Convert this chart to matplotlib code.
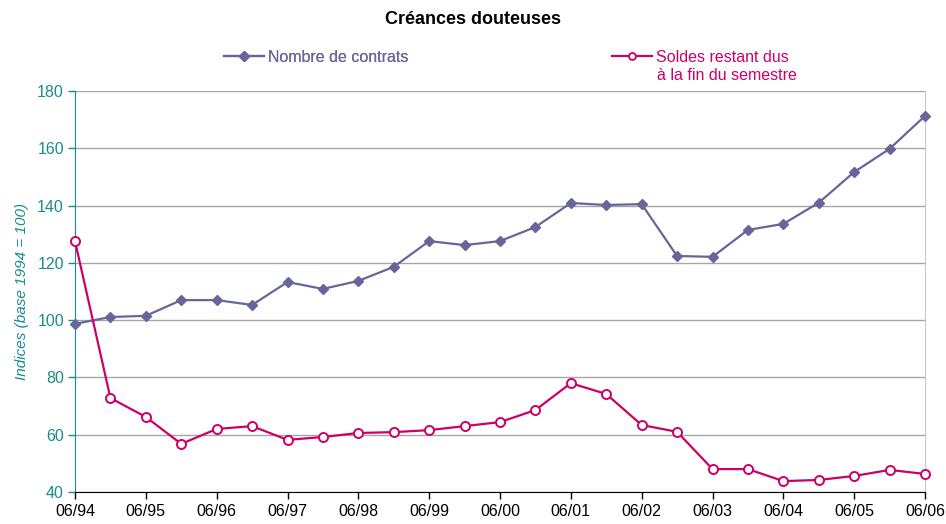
import matplotlib
matplotlib.use("Agg")
from matplotlib import pyplot as plt
from matplotlib.lines import Line2D

plt.rcParams['font.family'] = ['Liberation Sans', 'DejaVu Sans']

# semesters 06/94 .. 06/06 (index 0..24)
periods = list(range(25))
tick_labels = ["06/94", "06/95", "06/96", "06/97", "06/98", "06/99", "06/00",
               "06/01", "06/02", "06/03", "06/04", "06/05", "06/06"]

nombre_contrats = [98.7, 101.1, 101.5, 107.0, 107.0, 105.3, 113.3, 110.9, 113.7,
                   118.6, 127.6, 126.2, 127.6, 132.5, 140.9, 140.2, 140.5, 122.4,
                   122.1, 131.5, 133.6, 141.0, 151.7, 159.8, 171.3]
soldes_restant = [127.6, 72.8, 66.2, 56.8, 62.0, 63.0, 58.2, 59.2, 60.6, 60.9,
                  61.6, 63.0, 64.4, 68.6, 78.0, 74.2, 63.4, 61.0, 48.0, 48.0,
                  43.8, 44.2, 45.6, 47.7, 46.3]

blue = '#66669a'
pink = '#cc0066'
teal = '#1a8c8c'

fig = plt.figure(figsize=(9.46, 5.24), dpi=100)
ax = fig.add_axes([75 / 946, 1 - 492 / 524, 850 / 946, 401 / 524])

ax.plot(periods, nombre_contrats, color=blue, marker='D', markersize=5,
        linewidth=1.6, clip_on=False, zorder=3)
ax.plot(periods, soldes_restant, color=pink, marker='o', markersize=6.5,
        markerfacecolor='white', markeredgewidth=1.4, linewidth=1.6,
        clip_on=False, zorder=3)

ax.set_xlim(0, 24)
ax.set_ylim(40, 180)
ax.set_yticks(range(40, 181, 20))
ax.set_xticks(range(0, 25, 2))
ax.set_xticklabels(tick_labels)
ax.grid(axis='y', color='#a6a6a6', linewidth=1)
ax.set_axisbelow(True)

ax.tick_params(axis='y', colors=teal, labelsize=11.5, length=5, width=1, pad=3)
ax.tick_params(axis='x', colors='black', labelsize=11.5, length=5, width=1, pad=4)
ax.spines['left'].set_color(teal)
ax.spines['bottom'].set_color('black')
ax.spines['right'].set_color('#c8c8c8')
ax.spines['top'].set_visible(False)

ax.set_ylabel("Indices (base 1994 = 100)", color=teal, fontsize=11,
              fontstyle='italic', labelpad=6)

fig.text(0.5, 1 - 20 / 524, "Créances douteuses", ha='center', va='center',
         fontsize=13, fontweight='bold')

h1 = Line2D([], [], color=blue, marker='D', markersize=5, linewidth=1.6)
h2 = Line2D([], [], color=pink, marker='o', markersize=5, markerfacecolor='white',
            markeredgewidth=1.3, linewidth=1.6)
leg1 = fig.legend([h1], ["Nombre de contrats"], loc='center left',
                  bbox_to_anchor=(210 / 946, 1 - 57 / 524), frameon=False,
                  fontsize=11.5, handlelength=2.5, handletextpad=0.2,
                  labelcolor=blue)
leg2 = fig.legend([h2], ["Soldes restant dus"], loc='center left',
                  bbox_to_anchor=(598 / 946, 1 - 57 / 524), frameon=False,
                  fontsize=11.5, handlelength=2.5, handletextpad=0.2,
                  labelcolor=pink)
fig.add_artist(leg1)
fig.text(657 / 946, 1 - 75 / 524, "à la fin du semestre", ha='left', va='center',
         fontsize=11.5, color=pink)

fig.savefig("out.png", dpi=100)
